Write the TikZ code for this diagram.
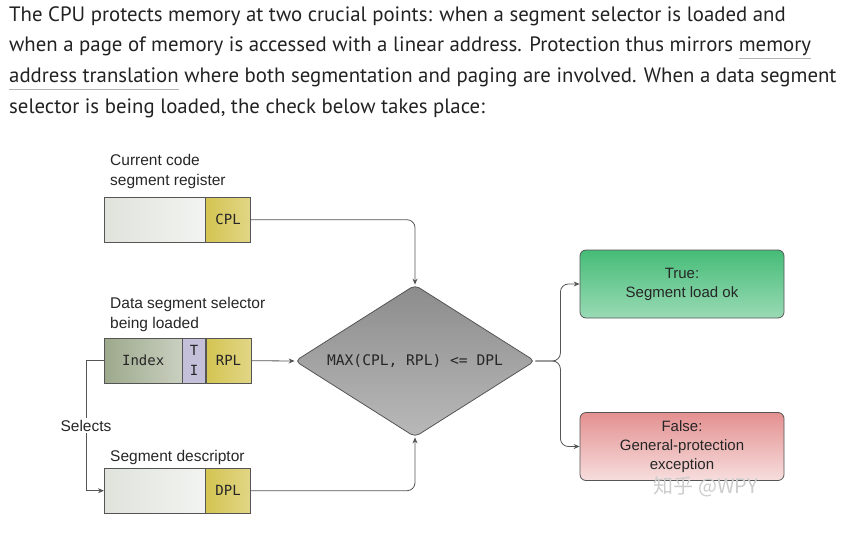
\documentclass[tikz,border=0pt]{standalone}
\usepackage{fontspec}
\usetikzlibrary{positioning, arrows.meta, shapes.geometric}
\setmainfont{PT Sans}
\newfontfamily\arial{Liberation Sans}
\newfontfamily\mono{DejaVu Sans Mono}
\newfontfamily\cjk{Noto Sans CJK SC}
\definecolor{ctexte}{HTML}{222222}
\definecolor{ctrait}{HTML}{555555}
\definecolor{cjaune}{HTML}{D4C452}
\definecolor{cpale}{HTML}{E0E3DC}
\definecolor{cindex}{HTML}{9DA98C}
\definecolor{cti}{HTML}{C4C0D9}
\definecolor{cvert}{HTML}{46BC78}
\definecolor{crouge}{HTML}{E49090}
\newsavebox\motbox
\newcommand\souligne[1]{\sbox\motbox{#1}%
  \rlap{\textcolor{gray!60}{\rule[-0.32em]{\wd\motbox}{0.7pt}}}\usebox\motbox}

\begin{document}
\begin{tikzpicture}[x=1pt, y=-1pt,
    champ/.style={draw=ctrait, minimum height=45pt, inner sep=0pt,
                  font=\mono\fontsize{14}{20}\selectfont, text=black!85},
    fond/.style={champ, left color=cpale, right color=cpale!40},
    jaune/.style={champ, left color=cjaune, right color=cjaune!70},
    lbl/.style={font=\arial\fontsize{15.5}{20}\selectfont, align=left,
                inner sep=0pt, text=black!85},
    lien/.style={-{Stealth[length=6pt, width=5pt]}, ctrait, line width=0.8pt},
    issue/.style={draw=ctrait, line width=0.8pt, rounded corners=6pt,
                  minimum width=204pt, minimum height=68pt, align=center,
                  font=\arial\fontsize{15}{19}\selectfont, text=black!85}]

  \useasboundingbox (0,0) rectangle (859,552);

  \node[anchor=north west, align=left, inner sep=0pt, text=ctexte,
        font=\fontsize{20.8}{30.8}\selectfont] (para) at (9,6)
    {The CPU protects memory at two crucial points: when a segment selector is loaded and\\
     when a page of memory is accessed with a linear address. Protection thus mirrors \souligne{memory}\\
     \souligne{address translation} where both segmentation and paging are involved. When a data segment\\
     selector is being loaded, the check below takes place:};

  % registres
  \node[fond, minimum width=101pt, anchor=north west] (cs) at (104,197) {};
  \node[jaune, minimum width=45pt, right=0pt of cs] (cpl) {CPL};

  \node[champ, minimum width=78pt, left color=cindex, right color=cindex!55,
        anchor=north west] (index) at (104,338) {Index};
  \node[champ, minimum width=23pt, fill=cti, align=center, right=0pt of index] (ti) {T\\I};
  \node[jaune, minimum width=45pt, right=0pt of ti] (rpl) {RPL};

  \node[fond, minimum width=101pt, anchor=north west] (desc) at (104,468) {};
  \node[jaune, minimum width=45pt, right=0pt of desc] (dpl) {DPL};

  \node[lbl, above=8pt of cs.north west, anchor=south west, xshift=6pt] (lcs)
    {Current code\\segment register};
  \node[lbl, above=6pt of index.north west, anchor=south west, xshift=6pt] (lsel)
    {Data segment selector\\being loaded};
  \node[lbl, above=3.5pt of desc.north west, anchor=south west, xshift=6pt] (ldesc)
    {Segment descriptor};

  % test
  \node[diamond, aspect=1.58, draw=ctrait, line width=0.8pt, minimum width=240pt,
        minimum height=152pt, inner sep=0pt, rounded corners=5pt,
        top color=gray!90, bottom color=gray!55,
        font=\mono\fontsize{14.6}{15}\selectfont, text=black!85] (test) at (415,361)
    {MAX(CPL, RPL) <= DPL};

  \node[issue, top color=cvert, bottom color=cvert!55] (vrai) at (682,284)
    {True:\\Segment load ok};
  \node[issue, top color=crouge, bottom color=crouge!30] (faux) at (682,446.5)
    {False:\\General-protection\\exception};

  \draw[lien, rounded corners=8pt] (cpl.east) -| (test.north);
  \draw[lien] (rpl.east) -- (test.west);
  \draw[lien, rounded corners=8pt] (dpl.east) -| (test.south);
  \draw[lien, rounded corners=8pt] (test.east) -- ++(25,0) |- (vrai.west);
  \draw[lien, rounded corners=8pt] (test.east) -- ++(25,0) |- (faux.west);
  \draw[lien] (index.west) -- ++(-18,0)
    |- node[pos=0.25, lbl, fill=white, inner sep=2pt] (sel) {Selects} (desc.west);

  \node[font=\cjk\fontsize{20}{20}\selectfont, text=gray!40] (marque) at (706,487) {知乎 @WPY};
\end{tikzpicture}
\end{document}
